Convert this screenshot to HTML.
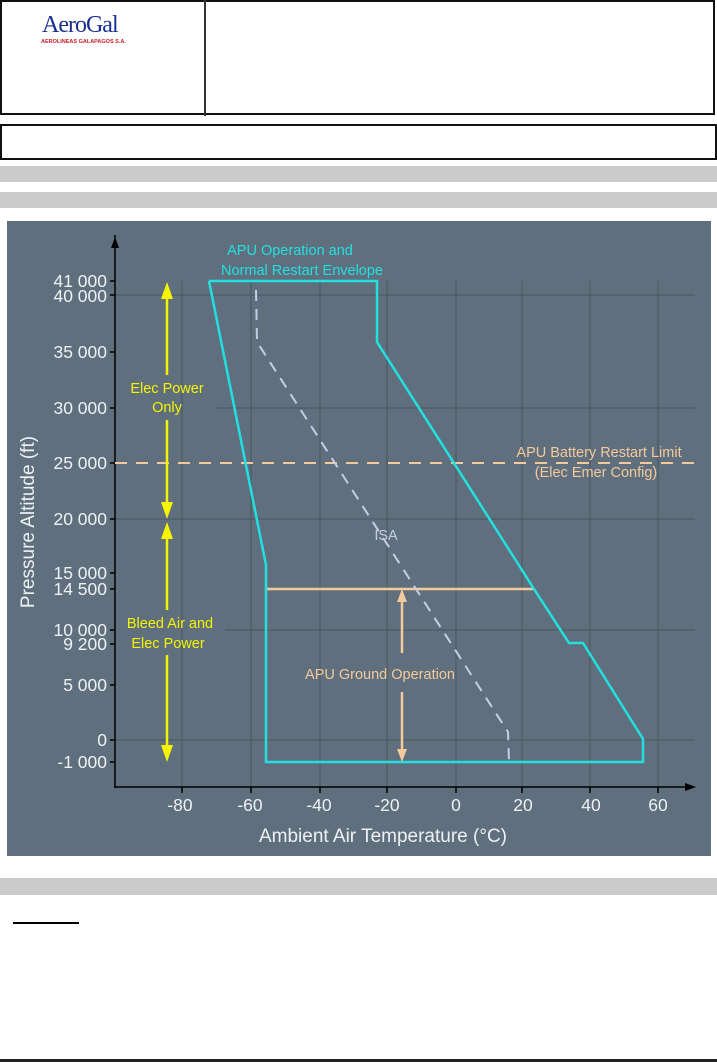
<!DOCTYPE html>
<html><head><meta charset="utf-8"><style>
body{margin:0;background:#fff;width:717px;height:1062px;position:relative;overflow:hidden;font-family:"Liberation Sans",sans-serif}
.a{position:absolute}
</style></head><body>
<div class="a" style="left:0;top:0;width:715px;height:115px;border:2px solid #111;box-sizing:border-box"></div>
<div class="a" style="left:204px;top:0;width:2px;height:116px;background:#333"></div>
<div class="a" style="left:42px;top:12px;font-family:'Liberation Serif',serif;font-size:24px;color:#1c2f8f;letter-spacing:-1px">AeroGal</div>
<div class="a" style="left:41px;top:39px;font-size:5.5px;color:#c8202a;font-weight:bold">AEROLINEAS GALAPAGOS S.A.</div>
<div class="a" style="left:0;top:124px;width:717px;height:36px;border:2px solid #111;box-sizing:border-box"></div>
<div class="a" style="left:0;top:166px;width:717px;height:16px;background:#cbcbcb"></div>
<div class="a" style="left:0;top:192px;width:717px;height:16px;background:#cbcbcb"></div>
<div class="a" style="left:0;top:878px;width:717px;height:17px;background:#cbcbcb"></div>
<div class="a" style="left:13px;top:922px;width:66px;height:1.5px;background:#000"></div>
<div class="a" style="left:0;top:1059px;width:717px;height:3px;background:#222"></div>
<svg class="a" style="left:0;top:0" width="717" height="1062" font-family="Liberation Sans, sans-serif">
<rect x="7" y="221" width="704" height="635" fill="#5f6f7d"/>
<g stroke="#4a5560" stroke-width="1">
<line x1="182" y1="281" x2="182" y2="787"/><line x1="251" y1="281" x2="251" y2="787"/><line x1="320" y1="281" x2="320" y2="787"/><line x1="387" y1="281" x2="387" y2="787"/><line x1="456" y1="281" x2="456" y2="787"/><line x1="522" y1="281" x2="522" y2="787"/><line x1="590" y1="281" x2="590" y2="787"/><line x1="658" y1="281" x2="658" y2="787"/>
<line x1="115" y1="295" x2="695" y2="295"/><line x1="215" y1="408" x2="695" y2="408"/><line x1="115" y1="519" x2="695" y2="519"/><line x1="225" y1="630" x2="695" y2="630"/><line x1="115" y1="740" x2="695" y2="740"/>
</g>
<g stroke="#000" stroke-width="1.5">
<line x1="115" y1="235" x2="115" y2="788"/><line x1="114" y1="787" x2="690" y2="787"/>
<line x1="110" y1="281" x2="115" y2="281"/><line x1="110" y1="295" x2="115" y2="295"/><line x1="110" y1="352" x2="115" y2="352"/><line x1="110" y1="408" x2="115" y2="408"/><line x1="110" y1="463" x2="115" y2="463"/><line x1="110" y1="519" x2="115" y2="519"/><line x1="110" y1="573" x2="115" y2="573"/><line x1="110" y1="589" x2="115" y2="589"/><line x1="110" y1="630" x2="115" y2="630"/><line x1="110" y1="644" x2="115" y2="644"/><line x1="110" y1="685" x2="115" y2="685"/><line x1="110" y1="740" x2="115" y2="740"/><line x1="110" y1="762" x2="115" y2="762"/>
<line x1="182" y1="787" x2="182" y2="793"/><line x1="251" y1="787" x2="251" y2="793"/><line x1="320" y1="787" x2="320" y2="793"/><line x1="387" y1="787" x2="387" y2="793"/><line x1="456" y1="787" x2="456" y2="793"/><line x1="522" y1="787" x2="522" y2="793"/><line x1="590" y1="787" x2="590" y2="793"/><line x1="658" y1="787" x2="658" y2="793"/>
</g>
<polygon points="115,237 111,248 119,248" fill="#000"/>
<polygon points="696,787 685,783 685,791" fill="#000"/>
<g fill="#eef1f3" font-size="17.5" text-anchor="end">
<text x="107" y="287">41 000</text><text x="107" y="302">40 000</text><text x="107" y="358">35 000</text><text x="107" y="414">30 000</text><text x="107" y="469">25 000</text><text x="107" y="525">20 000</text><text x="107" y="579">15 000</text><text x="107" y="595">14 500</text><text x="107" y="636">10 000</text><text x="107" y="650">9 200</text><text x="107" y="691">5 000</text><text x="107" y="746">0</text><text x="107" y="768">-1 000</text>
</g>
<g fill="#eef1f3" font-size="17.5" text-anchor="middle">
<text x="180" y="811">-80</text><text x="250" y="811">-60</text><text x="319" y="811">-40</text><text x="387" y="811">-20</text><text x="456" y="811">0</text><text x="523" y="811">20</text><text x="591" y="811">40</text><text x="658" y="811">60</text>
<text x="383" y="842" font-size="19">Ambient Air Temperature (°C)</text>
<text transform="translate(34,522) rotate(-90)" font-size="19">Pressure Altitude (ft)</text>
</g>
<line x1="115" y1="463" x2="695" y2="463" stroke="#f4c99c" stroke-width="2" stroke-dasharray="12,9"/>
<line x1="266" y1="589" x2="534" y2="589" stroke="#f4c99c" stroke-width="2.5"/>
<polyline points="256,290 257,342 508,732 509,762" fill="none" stroke="#c6cde8" stroke-width="2" stroke-dasharray="11,8"/>
<polyline points="209,281 377,281 377,342 534,589 569,643 583,643 643,739 643,762 266,762 266,565 209,281" fill="none" stroke="#22e0e0" stroke-width="2.5" stroke-linejoin="miter"/>
<g fill="#22e0e0" font-size="14.5" text-anchor="middle"><text x="290" y="255">APU Operation and</text><text x="302" y="275">Normal Restart Envelope</text></g>
<g fill="#f4c99c" font-size="14.5" text-anchor="middle"><text x="599" y="457">APU Battery Restart Limit</text><text x="596" y="477">(Elec Emer Config)</text><text x="380" y="679">APU Ground Operation</text></g>
<text x="386" y="540" fill="#c6cde8" font-size="14.5" text-anchor="middle">ISA</text>
<g stroke="#f4c99c" stroke-width="2.5"><line x1="402" y1="600" x2="402" y2="653"/><line x1="402" y1="692" x2="402" y2="752"/></g>
<g fill="#f4c99c"><polygon points="402,589 397,602 407,602"/><polygon points="402,762 397,749 407,749"/></g>
<g stroke="#f5f500" stroke-width="2.5"><line x1="167" y1="295" x2="167" y2="375"/><line x1="167" y1="420" x2="167" y2="506"/><line x1="167" y1="537" x2="167" y2="610"/><line x1="167" y1="655" x2="167" y2="748"/></g>
<g fill="#f5f500"><polygon points="167,282 161,299 173,299"/><polygon points="167,519 161,502 173,502"/><polygon points="167,522 161,539 173,539"/><polygon points="167,762 161,745 173,745"/></g>
<g fill="#f5f500" font-size="14.5" text-anchor="middle"><text x="167" y="393">Elec Power</text><text x="167" y="412">Only</text><text x="170" y="628">Bleed Air and</text><text x="168" y="648">Elec Power</text></g>
</svg>
</body></html>
